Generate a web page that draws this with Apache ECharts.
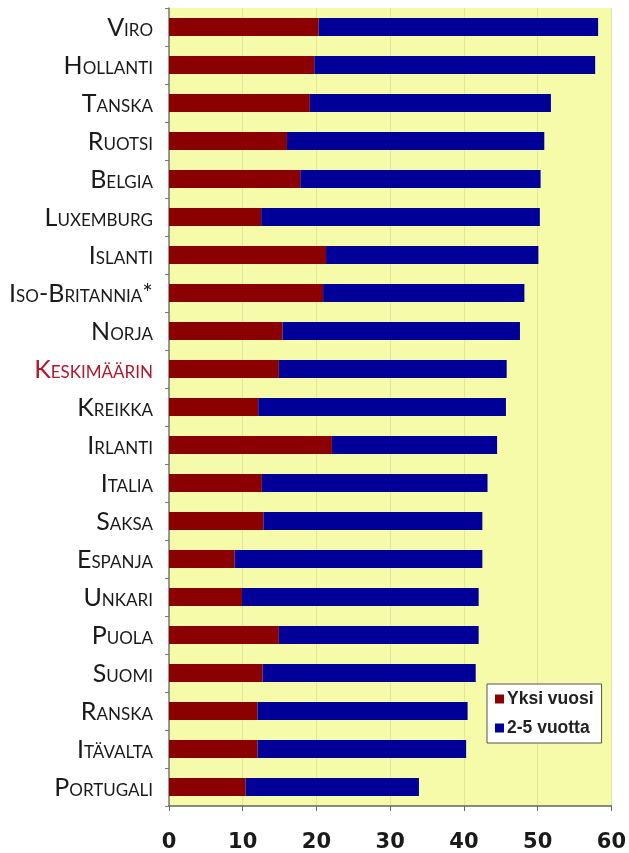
<!DOCTYPE html>
<html>
<head>
<meta charset="utf-8">
<script src="https://cdn.jsdelivr.net/npm/echarts@6/dist/echarts.min.js"></script>
<style>
html,body{margin:0;padding:0;background:#fff;}
#chart{width:629px;height:853px;}
</style>
</head>
<body>
<div id="chart"></div>
<script>
const categories = ['Viro','Hollanti','Tanska','Ruotsi','Belgia','Luxemburg','Islanti','Iso-Britannia*','Norja','Keskimäärin','Kreikka','Irlanti','Italia','Saksa','Espanja','Unkari','Puola','Suomi','Ranska','Itävalta','Portugali'];
const totals = [58.2,57.8,51.8,50.9,50.4,50.3,50.1,48.2,47.6,45.8,45.7,44.5,43.2,42.5,42.5,42.0,42.0,41.6,40.5,40.3,33.9];
const oneYear = [20.3,19.7,19.1,16.0,17.8,12.5,21.3,20.9,15.4,14.9,12.1,22.1,12.6,12.8,8.9,9.9,14.9,12.7,12.0,12.0,10.4];
const twoToFive = totals.map((t,i)=>+(t-oneYear[i]).toFixed(1));
const xTicks = {min:0, max:60, interval:10};
const highlight = 'Keskimäärin';
const seriesNames = ['Yksi vuosi','2-5 vuotta'];

function smallCaps(name){
  const red = name === highlight;
  let out = '';
  let i = 0;
  while(i < name.length){
    const ch = name[i];
    const isLower = ch !== ch.toUpperCase();
    let j = i;
    if(isLower){
      while(j < name.length && name[j] !== name[j].toUpperCase()) j++;
      out += '{' + (red?'rs':'s') + '|' + name.slice(i,j).toUpperCase() + '}';
    } else {
      while(j < name.length && (name[j] === name[j].toUpperCase()) && !(name[j] !== name[j].toLowerCase() && j>i) ) j++;
      if(j===i) j=i+1;
      out += '{' + (red?'rb':'b') + '|' + name.slice(i,j) + '}';
    }
    i = j;
  }
  return out;
}

const chart = echarts.init(document.getElementById('chart'));
const font = 'Lato';
chart.setOption({
  animation:false,
  backgroundColor:'#ffffff',
  grid:{left:169,right:14,top:8,bottom:45,show:true,backgroundColor:'#f5fba8',borderWidth:0},
  legend:{
    orient:'vertical', left:487, top:684,
    backgroundColor:'#ffffff', borderColor:'#555', borderWidth:1,
    padding:[6,8,6,8], itemGap:11, itemWidth:9, itemHeight:9,
    icon:'rect',
    textStyle:{fontFamily:'Liberation Sans',fontWeight:'bold',fontSize:17.5,color:'#222',padding:[0,0,0,-2]},
    data:seriesNames
  },
  xAxis:{
    type:'value', min:xTicks.min, max:xTicks.max, interval:xTicks.interval,
    axisLine:{show:true,lineStyle:{color:'#666',width:1.5}},
    axisTick:{show:true,length:5,lineStyle:{color:'#666'}},
    splitLine:{show:true,lineStyle:{color:'#dfe79a',width:1}},
    axisLabel:{margin:26,fontFamily:'DejaVu Sans',fontWeight:'bold',fontSize:21,color:'#1a1a1a'}
  },
  yAxis:{
    type:'category', inverse:true, data:categories,
    axisLine:{show:true,lineStyle:{color:'#777',width:1.5}},
    axisTick:{show:true,length:4,lineStyle:{color:'#777'}},
    axisLabel:{
      margin:16,
      formatter:(v)=>smallCaps(v),
      rich:{
        b:{fontFamily:font,fontSize:25,color:'#1a1a1a',verticalAlign:'bottom',lineHeight:26},
        s:{fontFamily:font,fontSize:17,color:'#1a1a1a',verticalAlign:'bottom',lineHeight:26,padding:[0,0,1,0]},
        rb:{fontFamily:font,fontSize:25,color:'#b3172b',verticalAlign:'bottom',lineHeight:26},
        rs:{fontFamily:font,fontSize:17,color:'#b3172b',verticalAlign:'bottom',lineHeight:26,padding:[0,0,1,0]}
      }
    }
  },
  series:[
    {name:seriesNames[0],type:'bar',stack:'a',barWidth:18,data:oneYear,itemStyle:{color:'#8b0000'}},
    {name:seriesNames[1],type:'bar',stack:'a',barWidth:18,data:twoToFive,itemStyle:{color:'#000099'}}
  ]
});
</script>
</body>
</html>
